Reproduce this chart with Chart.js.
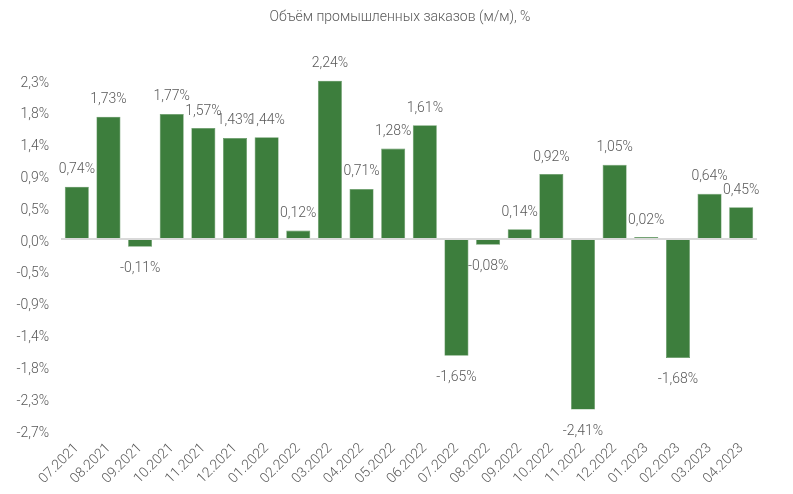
<!DOCTYPE html>
<html>
<head>
<meta charset="utf-8">
<script src="https://cdn.jsdelivr.net/npm/chart.js@4"></script>
<style>
  html, body { margin: 0; padding: 0; background: #fff; }
  #wrap { width: 793px; height: 494px; position: relative; }
</style>
</head>
<body>
<div id="wrap"><canvas id="myChart"></canvas></div>
<script>
  // Données
  const mois = ['07.2021', '08.2021', '09.2021', '10.2021', '11.2021', '12.2021', '01.2022', '02.2022',
    '03.2022', '04.2022', '05.2022', '06.2022', '07.2022', '08.2022', '09.2022', '10.2022',
    '11.2022', '12.2022', '01.2023', '02.2023', '03.2023', '04.2023'];
  const valeurs = [0.74, 1.73, -0.11, 1.77, 1.57, 1.43, 1.44, 0.12, 2.24, 0.71, 1.28, 1.61,
    -1.65, -0.08, 0.14, 0.92, -2.41, 1.05, 0.02, -1.68, 0.64, 0.45];
  const ticksY = [2.25, 1.8, 1.35, 0.9, 0.45, 0, -0.45, -0.9, -1.35, -1.8, -2.25, -2.7];
  const etiquettesY = ['2,3%', '1,8%', '1,4%', '0,9%', '0,5%', '0,0%', '-0,5%', '-0,9%', '-1,4%', '-1,8%', '-2,3%', '-2,7%'];
  const titre = 'Объём промышленных заказов (м/м), %';

  const police = "Roboto, sans-serif";
  const gris = '#595959';

  // Etiquettes au-dessus / en dessous des barres + titre
  const etiquettes = {
    id: 'etiquettes',
    afterDatasetsDraw(chart) {
      const ctx = chart.ctx;
      const meta = chart.getDatasetMeta(0);
      ctx.save();
      ctx.font = '300 14px ' + police;
      ctx.fillStyle = gris;
      ctx.textAlign = 'center';
      ctx.textBaseline = 'middle';
      meta.data.forEach((bar, i) => {
        const v = valeurs[i];
        const txt = v.toFixed(2).replace('.', ',') + '%';
        const y = v >= 0 ? bar.y - 17 : bar.y + 22;
        ctx.fillText(txt, bar.x, y);
      });
      ctx.fillText(titre, 400, 17);
      ctx.restore();
    }
  };

  const data = {
    labels: mois,
    datasets: [{
      data: valeurs,
      backgroundColor: '#3d7e3d',
      borderColor: '#5f955f',
      borderWidth: 0.6,
      minBarLength: 2,
      categoryPercentage: 1,
      barPercentage: 0.76
    }]
  };

  const config = {
    type: 'bar',
    data,
    options: {
      responsive: true,
      maintainAspectRatio: false,
      animation: false,
      layout: { padding: { top: 80, right: 36, left: 0, bottom: 0 } },
      scales: {
        x: {
          grid: { display: false },
          border: { display: false },
          ticks: {
            color: gris,
            font: { family: police, size: 14, weight: '300' },
            maxRotation: 45,
            minRotation: 45,
            autoSkip: false,
            padding: 2
          },
          afterFit(scale) { scale.height = 64; }
        },
        y: {
          min: -2.7,
          max: 2.25,
          afterBuildTicks(scale) {
            scale.ticks = ticksY.map(v => ({ value: v }));
          },
          ticks: {
            color: gris,
            font: { family: police, size: 14, weight: '300' },
            padding: 12,
            labelOffset: 3,
            callback: (v, i) => etiquettesY[i]
          },
          grid: {
            drawTicks: false,
            color: ctx => ctx.tick && ctx.tick.value === 0 ? '#d9d9d9' : 'rgba(0,0,0,0)',
            lineWidth: ctx => ctx.tick && ctx.tick.value === 0 ? 2 : 0
          },
          border: { display: false },
          afterFit(scale) { scale.width = 61; }
        }
      },
      plugins: {
        legend: { display: false },
        tooltip: { enabled: false }
      }
    },
    plugins: [etiquettes]
  };

  const myChart = new Chart(document.getElementById('myChart'), config);
</script>
</body>
</html>
